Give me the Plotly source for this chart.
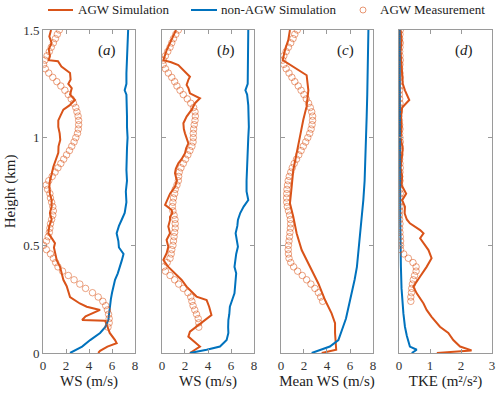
import numpy as np
import plotly.graph_objects as go

# ---- data: panel (a) WS ----
h_sim_a = [1.50, 1.47, 1.44, 1.41, 1.38, 1.36, 1.355, 1.33, 1.30, 1.27, 1.25, 1.23, 1.20, 1.175, 1.15,
           1.13, 1.10, 1.08, 1.05, 1.02, 0.99, 0.96, 0.93, 0.90, 0.865, 0.83, 0.80, 0.77, 0.74, 0.71,
           0.68, 0.65, 0.62, 0.59, 0.556, 0.53, 0.51, 0.49, 0.464, 0.43, 0.40, 0.37, 0.34, 0.31, 0.28,
           0.26, 0.23, 0.215, 0.20, 0.185, 0.17, 0.153, 0.15, 0.122, 0.093, 0.06, 0.046, 0.03, 0.01, 0.0]
ws_sim_a = [0.7, 0.55, 0.75, 0.5, 0.6, 0.5, 1.3, 1.6, 2.35, 2.4, 2.2, 2.5, 2.35, 2.78, 2.3,
            1.77, 1.5, 1.33, 1.33, 1.45, 1.5, 1.35, 1.33, 1.1, 0.9, 0.75, 0.6, 0.55, 0.6, 0.75,
            0.75, 0.6, 0.75, 0.55, 0.46, 0.8, 1.04, 0.95, 1.04, 1.2, 1.48, 1.6, 1.77, 2.06, 2.2,
            2.35, 3.2, 3.8, 4.96, 4.4, 3.7, 3.4, 5.4, 5.6, 5.8, 6.26, 6.4, 5.6, 4.96, 4.8]

h_non_a = [1.50, 1.45, 1.40, 1.35, 1.30, 1.25, 1.22, 1.20, 1.15, 1.10, 1.05, 1.00, 0.95, 0.90, 0.85,
           0.80, 0.75, 0.70, 0.65, 0.62, 0.59, 0.556, 0.52, 0.49, 0.46, 0.43, 0.40, 0.37, 0.34, 0.31,
           0.28, 0.25, 0.215, 0.18, 0.153, 0.12, 0.093, 0.06, 0.03, 0.0]
ws_non_a = [7.4, 7.35, 7.3, 7.3, 7.25, 7.25, 7.1, 7.25, 7.3, 7.3, 7.3, 7.35, 7.3, 7.25, 7.25,
            7.3, 7.2, 7.25, 7.1, 6.85, 6.6, 6.4, 6.55, 6.6, 7.0, 6.85, 6.7, 6.5, 6.26, 6.1,
            6.0, 5.9, 5.8, 5.75, 5.68, 5.4, 4.96, 4.1, 3.4, 2.35]

h_meas_ab = np.round(np.arange(1.50, 0.11, -0.02), 2)
ws_meas_a = [1.42, 1.25, 1.08, 0.9, 0.72, 0.55, 0.35, 0.17, 0.05, 0.2, 0.5, 0.85, 1.2, 1.55, 1.9,
             2.2, 2.45, 2.65, 2.85, 2.95, 3.05, 3.1, 3.1, 3.07, 3.0, 2.85, 2.7, 2.5, 2.3, 2.05,
             1.8, 1.55, 1.3, 1.05, 0.8, 0.5, 0.28, 0.4, 0.6, 0.65, 0.75, 0.85, 0.9, 0.85, 0.75,
             0.65, 0.6, 0.55, 0.45, 0.3, 0.05, 0.3, 0.65, 0.9, 1.1, 1.3, 1.7, 2.2, 2.7, 3.2,
             3.7, 4.3, 4.8, 5.2, 5.45, 5.6, 5.7, 5.75, 5.75, 5.65]

# ---- data: panel (b) WS ----
h_sim_b = [1.50, 1.454, 1.407, 1.36, 1.35, 1.337, 1.314, 1.283, 1.27, 1.245, 1.23, 1.206, 1.183, 1.16,
           1.13, 1.098, 1.067, 1.04, 1.02, 0.974, 0.95, 0.928, 0.90, 0.881, 0.855, 0.835, 0.80, 0.772,
           0.74, 0.71, 0.688, 0.664, 0.649, 0.633, 0.618, 0.587, 0.556, 0.525, 0.494, 0.463, 0.432,
           0.40, 0.37, 0.339, 0.308, 0.262, 0.246, 0.215, 0.176, 0.153, 0.122, 0.099, 0.076, 0.052,
           0.03, 0.015, 0.0]
ws_sim_b = [1.22, 0.84, 0.41, 0.12, 0.8, 1.42, 1.86, 2.43, 2.3, 2.14, 2.3, 2.43, 3.3, 2.87,
            2.58, 2.14, 1.86, 1.9, 2.0, 2.29, 2.1, 2.0, 1.7, 1.42, 1.2, 1.13, 1.3, 1.13,
            0.7, 0.41, 0.27, 0.84, 0.9, 0.7, 0.7, 0.55, 0.7, 0.4, 0.55, 0.4, 0.12,
            0.55, 1.13, 1.71, 2.14, 3.0, 3.88, 4.1, 4.3, 3.74, 3.0, 2.43, 2.29, 2.87,
            3.3, 2.87, 2.43]

h_non_b = [1.50, 1.45, 1.40, 1.35, 1.30, 1.25, 1.22, 1.20, 1.15, 1.10, 1.05, 1.00, 0.95, 0.90, 0.85,
           0.80, 0.75, 0.71, 0.68, 0.65, 0.618, 0.59, 0.556, 0.525, 0.494, 0.46, 0.43, 0.40, 0.37,
           0.339, 0.31, 0.277, 0.246, 0.215, 0.18, 0.153, 0.12, 0.093, 0.06, 0.03, 0.015, 0.0]
ws_non_b = [7.5, 7.5, 7.45, 7.5, 7.5, 7.45, 7.25, 7.4, 7.5, 7.55, 7.55, 7.5, 7.45, 7.45, 7.4,
            7.35, 7.35, 7.5, 7.1, 6.8, 6.6, 6.55, 6.4, 6.5, 6.6, 6.45, 6.4, 6.3, 6.45,
            6.4, 6.3, 6.3, 6.1, 5.9, 5.85, 5.77, 5.75, 5.77, 5.62, 5.04, 3.88, 2.43]

ws_meas_b = [1.42, 1.2, 1.0, 0.85, 0.7, 0.5, 0.3, 0.12, 0.1, 0.3, 0.55, 0.85, 1.1, 1.3, 1.57,
             1.85, 2.2, 2.5, 2.75, 2.87, 2.9, 2.87, 2.8, 2.75, 2.72, 2.72, 2.7, 2.6, 2.43, 2.25,
             2.05, 1.85, 1.65, 1.5, 1.45, 1.42, 1.3, 1.15, 1.1, 1.0, 0.95, 0.9, 0.95, 1.05, 1.13,
             1.15, 1.15, 1.1, 1.05, 1.0, 0.95, 0.85, 0.8, 0.7, 0.45, 0.15, 0.3, 0.7, 1.1, 1.45,
             1.85, 2.25, 2.5, 2.6, 2.7, 2.85, 3.0, 3.15, 3.2, 3.2]

# ---- data: panel (c) mean WS ----
h_sim_c = [1.50, 1.454, 1.407, 1.37, 1.36, 1.29, 1.22, 1.145, 1.083, 1.005, 0.928, 0.85, 0.772,
           0.695, 0.633, 0.556, 0.478, 0.40, 0.323, 0.246, 0.184, 0.138, 0.093, 0.03, 0.015, 0.0]
ws_sim_c = [0.78, 0.64, 0.35, 0.15, 0.15, 2.23, 2.38, 2.23, 1.94, 1.65, 1.36, 1.07, 0.93,
            0.78, 1.07, 1.36, 1.8, 2.52, 3.25, 3.83, 4.4, 4.7, 4.7, 4.78, 4.8, 3.54]

h_non_c = [1.50, 1.40, 1.30, 1.20, 1.10, 1.00, 0.90, 0.80, 0.711, 0.63, 0.556, 0.48, 0.40, 0.34,
           0.277, 0.24, 0.20, 0.16, 0.122, 0.09, 0.06, 0.03, 0.0]
ws_non_c = [7.6, 7.58, 7.55, 7.5, 7.45, 7.4, 7.35, 7.27, 7.16, 7.02, 6.87, 6.75, 6.6, 6.4,
            6.14, 6.0, 5.86, 5.65, 5.4, 5.2, 4.99, 4.25, 2.67]

h_meas_cd = np.round(np.arange(1.50, 0.23, -0.02), 2)
ws_meas_c = [1.42, 1.2, 1.05, 0.85, 0.65, 0.45, 0.25, 0.15, 0.25, 0.45, 0.7, 0.95, 1.2, 1.5, 1.75,
             2.0, 2.2, 2.4, 2.55, 2.67, 2.75, 2.75, 2.7, 2.62, 2.5, 2.33, 2.15, 1.94, 1.75, 1.55,
             1.35, 1.15, 0.98, 0.85, 0.72, 0.63, 0.57, 0.52, 0.5, 0.49, 0.5, 0.55, 0.65, 0.75, 0.82,
             0.84, 0.82, 0.78, 0.74, 0.7, 0.65, 0.63, 0.65, 0.7, 0.85, 1.1, 1.45, 1.85, 2.23, 2.6,
             2.95, 3.25, 3.45, 3.62]

# ---- data: panel (d) TKE ----
h_sim_d = [1.50, 1.45, 1.40, 1.35, 1.30, 1.25, 1.22, 1.175, 1.14, 1.10, 1.05, 1.00, 0.95, 0.90,
           0.86, 0.82, 0.78, 0.74, 0.71, 0.68, 0.648, 0.62, 0.602, 0.571, 0.556, 0.533, 0.51, 0.478,
           0.44, 0.40, 0.355, 0.308, 0.277, 0.23, 0.20, 0.168, 0.122, 0.093, 0.06, 0.03, 0.012, 0.0]
tke_sim_d = [0.05, 0.08, 0.05, 0.07, 0.1, 0.12, 0.19, 0.33, 0.1, 0.06, 0.08, 0.05, 0.12, 0.08,
             0.05, 0.1, 0.08, 0.23, 0.1, 0.19, 0.18, 0.25, 0.35, 0.68, 0.79, 0.68, 0.79, 0.95,
             1.05, 0.89, 0.68, 0.46, 0.57, 0.79, 0.89, 1.05, 1.32, 1.59, 1.75, 1.97, 2.34, 1.22]

h_non_d = [1.50, 1.20, 0.90, 0.60, 0.40, 0.30, 0.184, 0.122, 0.08, 0.06, 0.03, 0.015, 0.0]
tke_non_d = [0.02, 0.02, 0.03, 0.04, 0.06, 0.08, 0.14, 0.19, 0.25, 0.3, 0.35, 0.57, 0.41]

tke_meas_d = [0.04, 0.03, 0.02, 0.04, 0.03, 0.02, 0.03, 0.04, 0.03, 0.02, 0.03, 0.04, 0.02, 0.03, 0.02,
              0.01, 0.02, 0.03, 0.02, 0.01, 0.0, 0.01, 0.02, 0.03, 0.02, 0.03, 0.04, 0.03, 0.02, 0.03,
              0.02, 0.03, 0.04, 0.03, 0.02, 0.03, 0.02, 0.03, 0.04, 0.03, 0.02, 0.03, 0.02, 0.01, 0.02,
              0.03, 0.02, 0.03, 0.04, 0.05, 0.05, 0.05, 0.15, 0.3, 0.45, 0.55, 0.55, 0.5, 0.46, 0.43,
              0.41, 0.4, 0.38, 0.38]

series_names = ["AGW Simulation", "non-AGW Simulation", "AGW Measurement"]

ORANGE = "#D95319"
BLUE = "#0072BD"
MEAS = "rgba(217,83,25,0.6)"
FONT = "Liberation Serif"
W, H = 500, 395
ML, MR, MT, MB = 43, 8, 30, 42

panels = [
    (h_sim_a, ws_sim_a, h_non_a, ws_non_a, h_meas_ab, ws_meas_a),
    (h_sim_b, ws_sim_b, h_non_b, ws_non_b, h_meas_ab, ws_meas_b),
    (h_sim_c, ws_sim_c, h_non_c, ws_non_c, h_meas_cd, ws_meas_c),
    (h_sim_d, tke_sim_d, h_non_d, tke_non_d, h_meas_cd, tke_meas_d),
]
x_titles = ["WS (m/s)", "WS (m/s)", "Mean WS (m/s)", "TKE (m²/s²)"]
letters = ["a", "b", "c", "d"]
domains = [[0.0, 0.205], [0.265, 0.470], [0.530, 0.735], [0.793, 1.0]]

fig = go.Figure()
for i, (hs, vs, hn, vn, hm, vm) in enumerate(panels):
    xa = "x" if i == 0 else f"x{i + 1}"
    ya = "y" if i == 0 else f"y{i + 1}"
    fig.add_trace(go.Scatter(x=vs, y=hs, mode="lines", name=series_names[0],
                             line=dict(color=ORANGE, width=2), xaxis=xa, yaxis=ya,
                             showlegend=False))
    fig.add_trace(go.Scatter(x=vn, y=hn, mode="lines", name=series_names[1],
                             line=dict(color=BLUE, width=2), xaxis=xa, yaxis=ya,
                             showlegend=False))
    fig.add_trace(go.Scatter(x=vm, y=hm, mode="markers", name=series_names[2],
                             marker=dict(symbol="circle-open", size=6.5, color=MEAS,
                                         line=dict(width=0.9, color=MEAS)),
                             xaxis=xa, yaxis=ya, showlegend=False))

axis_common = dict(showline=True, linecolor="#9a9a9a", linewidth=1, mirror="ticks",
                   ticks="inside", ticklen=4, tickcolor="#9a9a9a", showgrid=False,
                   zeroline=False, automargin=False,
                   tickfont=dict(family=FONT, size=13, color="#333"))

layout = {}
for i in range(4):
    key = "" if i == 0 else str(i + 1)
    xr = [0, 3] if i == 3 else [0, 8]
    dt = 1 if i == 3 else 2
    layout[f"xaxis{key}"] = dict(axis_common, domain=domains[i], range=xr, dtick=dt,
                                 anchor="y" if i == 0 else f"y{key}",
                                 title=dict(text=x_titles[i], standoff=2,
                                            font=dict(family=FONT, size=15, color="#222")))
    layout[f"yaxis{key}"] = dict(axis_common, range=[0, 1.5], tickvals=[0, 0.5, 1, 1.5],
                                 anchor="x" if i == 0 else f"x{key}",
                                 showticklabels=(i == 0))
layout["yaxis"]["title"] = dict(text="Height (km)", standoff=3,
                                font=dict(family=FONT, size=15, color="#222"))

fig.update_layout(**layout)

for i, L in enumerate(letters):
    key = "x" if i == 0 else f"x{i + 1}"
    ykey = "y" if i == 0 else f"y{i + 1}"
    fig.add_annotation(text=f"(<i>{L}</i>)", xref=f"{key} domain", yref=f"{ykey} domain",
                       x=0.82, y=0.938, xanchor="right", yanchor="middle", showarrow=False,
                       font=dict(family=FONT, size=15, color="#222"))

# legend row above the panels, built by hand to get MATLAB-like short keys
pw, ph = W - ML - MR, H - MT - MB
px = lambda v: (v - ML) / pw
py = lambda v: (H - MB - v) / ph
leg_y = py(10)
fig.add_shape(type="line", xref="paper", yref="paper", x0=px(48), x1=px(73), y0=leg_y, y1=leg_y,
              line=dict(color=ORANGE, width=2))
fig.add_shape(type="line", xref="paper", yref="paper", x0=px(191), x1=px(217), y0=leg_y, y1=leg_y,
              line=dict(color=BLUE, width=2))
fig.add_shape(type="circle", xref="paper", yref="paper", x0=px(360), x1=px(366),
              y0=leg_y - 3 / ph, y1=leg_y + 3 / ph, line=dict(color=MEAS, width=1))
for name, x_left in zip(series_names, [76, 219, 378]):
    fig.add_annotation(text=name, xref="paper", yref="paper", x=px(x_left), y=leg_y,
                       xanchor="left", yanchor="middle", showarrow=False,
                       font=dict(family=FONT, size=13, color="#222"))

fig.update_layout(
    width=W, height=H,
    margin=dict(l=ML, r=MR, t=MT, b=MB, autoexpand=False),
    plot_bgcolor="white", paper_bgcolor="white",
    font=dict(family=FONT, color="#222"),
    showlegend=False,
)

# drop the default 8px page margin so the figure sits at the window's corner
fig.write_html("out.html", config={"displayModeBar": False},
               post_script="document.body.style.margin='0';")
